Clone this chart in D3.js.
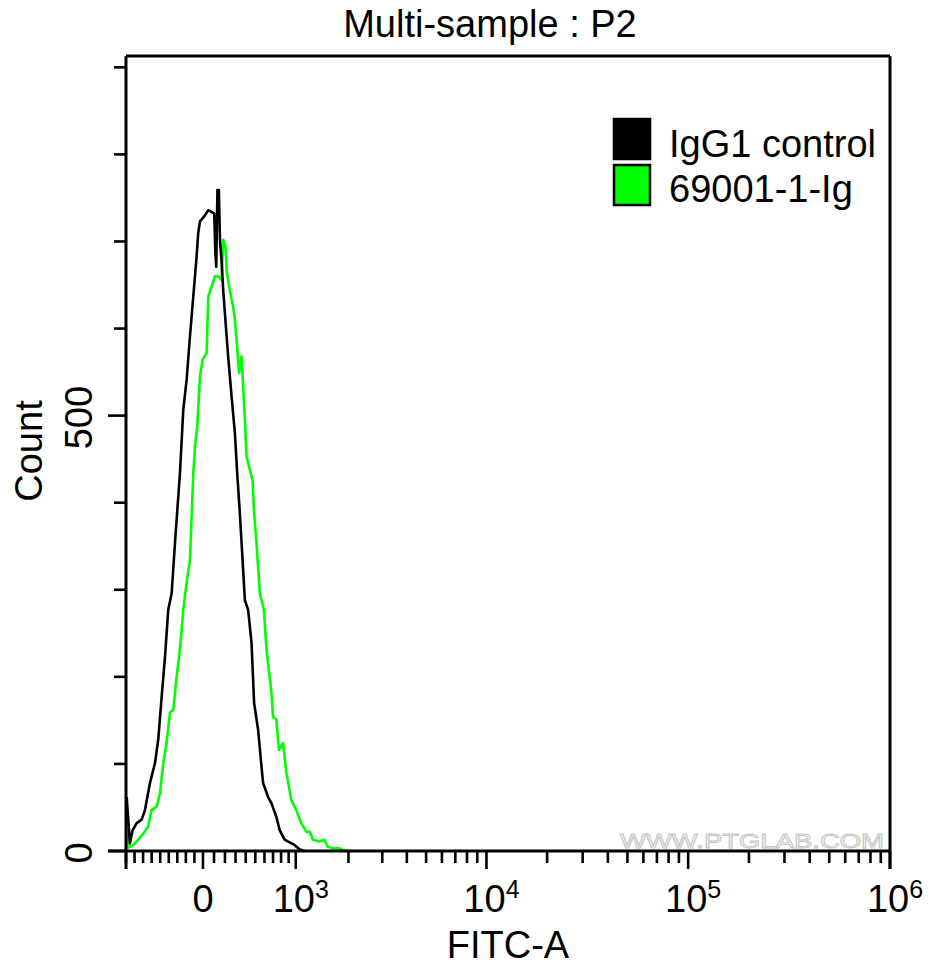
<!DOCTYPE html>
<html>
<head>
<meta charset="utf-8">
<script src="https://cdn.jsdelivr.net/npm/d3@7"></script>
<style>
  html, body { margin: 0; padding: 0; background: #fff; }
  svg { display: block; }
  text { font-family: "Liberation Sans", Arial, sans-serif; fill: #000; }
</style>
</head>
<body>
<svg id="chart" width="940" height="968"></svg>
<script>
// ---------------- DATA ----------------
const chartTitle = "Multi-sample : P2";
const xAxisTitle = "FITC-A";
const yAxisTitle = "Count";
const seriesNames = ["IgG1 control", "69001-1-Ig"];
const seriesColors = ["#000000", "#00ff00"];

// IgG1 control histogram: FITC-A value and count
const controlFitc = [-892,-854,-822,-775,-717,-678,-620,-561,-523,-483,-444,-406,-366,-327,-269,-230,-191,-152,-113,-74,-55,-35,18,48,78,102,111,120,131,144,154,169,184,209,230,262,294,316,342,359,392,425,460,487,530,567,585,642,681,741,782,846,912,982,1055,1132];
const controlCount = [62,9,24,32,36,47,78,101,128,177,223,277,296,354,434,507,541,591,637,683,710,723,730,736,734,732,690,671,759,759,702,677,644,602,568,522,480,434,388,354,288,277,239,170,139,97,78,62,55,39,24,13,10,7,2,0];

// 69001-1-Ig histogram: FITC-A value and count
const sampleFitc = [-889,-874,-815,-757,-698,-640,-600,-542,-503,-464,-425,-386,-347,-308,-269,-230,-191,-152,-132,-113,-94,-67,-35,-4,33,48,78,108,138,169,184,206,215,246,277,294,310,335,359,375,392,409,442,471,487,512,549,593,624,681,700,741,773,825,869,936,1007,1082,1163,1215,1270,1386,1477,1540,1641,1788,1866,2033];
const sampleCount = [34,4,7,13,20,28,47,51,66,101,124,159,162,200,231,277,308,334,386,434,464,487,545,564,572,637,648,660,660,656,702,694,667,644,625,610,587,549,568,533,495,453,438,426,388,354,296,277,231,182,154,151,116,124,90,59,47,32,22,22,13,11,13,5,3,3,1,0];

// Axes ticks
const xDomain = [-900, 1e6];
const yDomain = [0, 913];
const xMajorTicks = [0, 1e3, 1e4, 1e5, 1e6];
const xMajorLabels = [["0", ""], ["10", "3"], ["10", "4"], ["10", "5"], ["10", "6"]];
const xMinorTicks = [-900,-800,-700,-600,-500,-400,-300,-200,-100,
  100,200,300,400,500,600,700,800,900,
  2000,3000,4000,5000,6000,7000,8000,9000,
  20000,30000,40000,50000,60000,70000,80000,90000,
  200000,300000,400000,500000,600000,700000,800000,900000];
const yTicks = [0,100,200,300,400,500,600,700,800,900];
const yLabeled = [0, 500];
const watermark = "WWW.PTGLAB.COM";

// ---------------- LAYOUT ----------------
const L = 126, R = 890, T0 = 56, B = 851;
const svg = d3.select("#chart");
svg.append("rect").attr("width", 940).attr("height", 968).attr("fill", "#fff");

// biexponential-like transform (asinh for positives, linear for negatives)
const cPar = 789, negSlope = 0.0009755;
const tf = v => v >= 0 ? Math.asinh(v / cPar) : v * negSlope;
const xLin = d3.scaleLinear().domain(xDomain.map(tf)).range([L, R]);
const x = v => xLin(tf(v));
const y = d3.scaleLinear().domain(yDomain).range([B, T0]);

// watermark
svg.append("text")
  .attr("x", 620).attr("y", 848)
  .attr("textLength", 264).attr("lengthAdjust", "spacingAndGlyphs")
  .style("font-size", "21px")
  .style("fill", "#f8f8f8")
  .style("stroke", "#c4c4c4").style("stroke-width", 0.9)
  .text(watermark);

// lines
const line = d3.line().x(d => x(d[0])).y(d => y(d[1])).curve(d3.curveLinear);
const controlData = controlFitc.map((v, i) => [v, controlCount[i]]);
const sampleData = sampleFitc.map((v, i) => [v, sampleCount[i]]);

svg.append("path").datum(sampleData)
  .attr("d", line).attr("fill", "none")
  .attr("stroke", seriesColors[1]).attr("stroke-width", 2.6)
  .attr("stroke-linejoin", "round");
svg.append("path").datum(controlData)
  .attr("d", line).attr("fill", "none")
  .attr("stroke", seriesColors[0]).attr("stroke-width", 2.6)
  .attr("stroke-linejoin", "round");

// frame
const fw = 3;
const g = svg.append("g").attr("stroke", "#000").attr("stroke-width", fw).attr("fill", "none");
g.append("line").attr("x1", L).attr("x2", R).attr("y1", T0).attr("y2", T0);
g.append("line").attr("x1", R).attr("x2", R).attr("y1", T0).attr("y2", B + 18);
g.append("line").attr("x1", L).attr("x2", L).attr("y1", T0).attr("y2", B + 18);
g.append("line").attr("x1", L - 18).attr("x2", R).attr("y1", B).attr("y2", B);

// x ticks
const tk = svg.append("g").attr("stroke", "#000").attr("stroke-width", 2.6);
tk.selectAll(".xmin").data(xMinorTicks).enter().append("line")
  .attr("x1", d => x(d)).attr("x2", d => x(d))
  .attr("y1", B).attr("y2", B + 12);
tk.selectAll(".xmaj").data(xMajorTicks).enter().append("line")
  .attr("x1", d => x(d)).attr("x2", d => x(d))
  .attr("y1", B).attr("y2", B + 18);
// y ticks
tk.selectAll(".yt").data(yTicks).enter().append("line")
  .attr("x1", d => L - (yLabeled.includes(d) ? 18 : 12)).attr("x2", L)
  .attr("y1", d => y(d)).attr("y2", d => y(d));

// x tick labels
const FS = 38;
xMajorTicks.forEach((v, i) => {
  const [base, sup] = xMajorLabels[i];
  const t = svg.append("text")
    .attr("x", x(v) + (sup ? 5 : 0)).attr("y", 912)
    .attr("text-anchor", "middle")
    .style("font-size", FS + "px");
  t.append("tspan").text(base);
  if (sup) t.append("tspan").attr("dy", -14).style("font-size", "25px").text(sup);
});

// y tick labels (rotated)
yLabeled.forEach(v => {
  svg.append("text")
    .attr("transform", `translate(92,${y(v) + 2}) rotate(-90)`)
    .attr("text-anchor", "middle")
    .style("font-size", FS + "px")
    .text(String(v));
});

// axis titles
svg.append("text")
  .attr("x", (L + R) / 2).attr("y", 958)
  .attr("text-anchor", "middle")
  .style("font-size", FS + "px")
  .text(xAxisTitle);
svg.append("text")
  .attr("transform", "translate(42,451) rotate(-90)")
  .attr("text-anchor", "middle")
  .style("font-size", FS + "px")
  .text(yAxisTitle);

// title
svg.append("text")
  .attr("x", 490).attr("y", 37)
  .attr("text-anchor", "middle")
  .style("font-size", FS + "px")
  .text(chartTitle);

// legend
const legY = [119, 165];
const legBase = [157, 202];
seriesNames.forEach((name, i) => {
  svg.append("rect")
    .attr("x", 614).attr("y", legY[i])
    .attr("width", 36).attr("height", 40)
    .attr("fill", seriesColors[i])
    .attr("stroke", "#000").attr("stroke-width", 2.5);
  svg.append("text")
    .attr("x", 669).attr("y", legBase[i])
    .style("font-size", FS + "px")
    .text(name);
});
</script>
</body>
</html>
